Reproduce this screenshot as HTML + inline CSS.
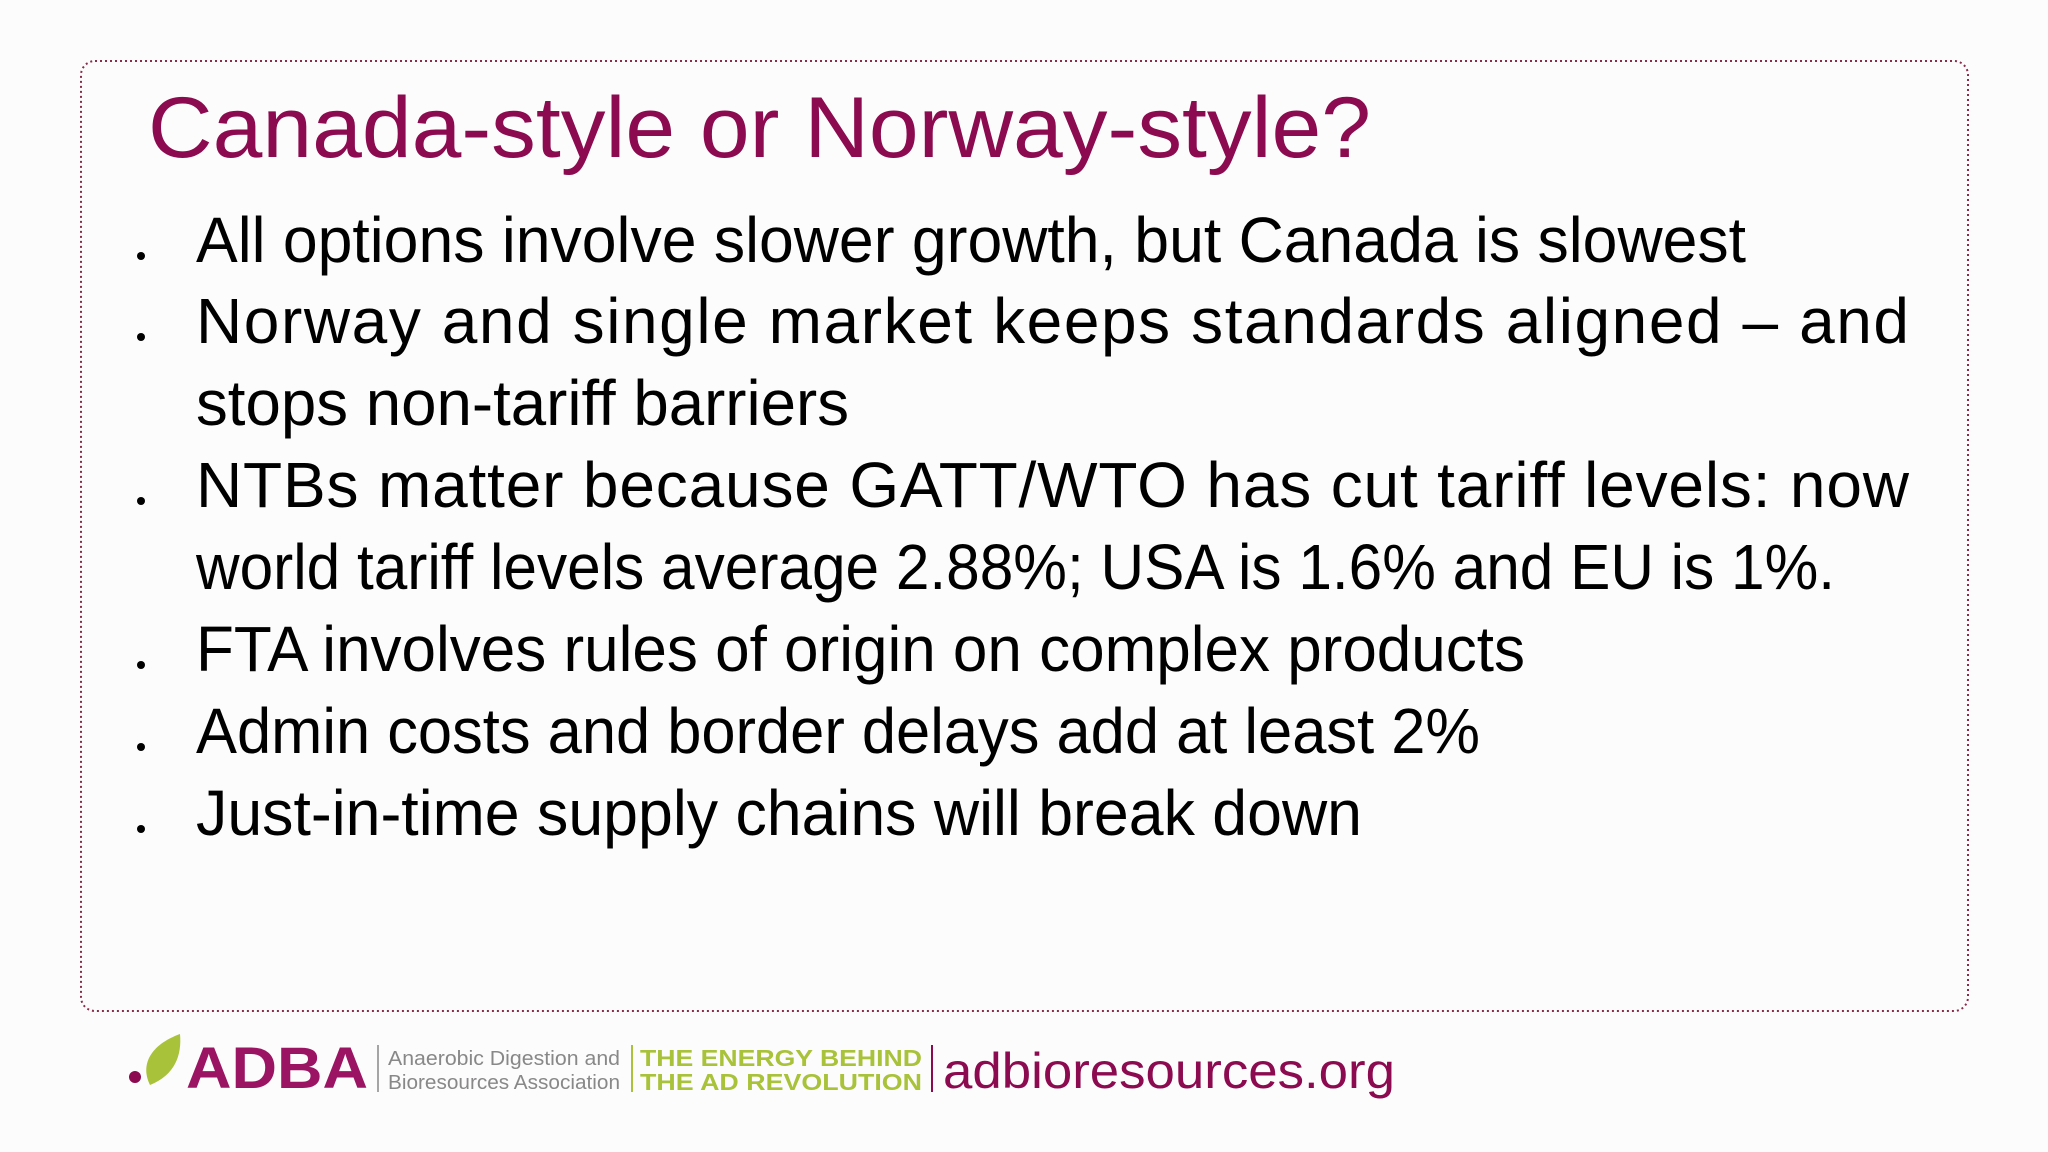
<!DOCTYPE html>
<html><head><meta charset="utf-8"><style>
html,body{margin:0;padding:0;background:#fdfcfd;}
svg{display:block}
</style></head><body>
<svg width="2048" height="1152" viewBox="0 0 2048 1152" xmlns="http://www.w3.org/2000/svg">
<rect x="0" y="0" width="2048" height="1152" fill="#fdfcfd"/>
<rect x="81" y="61" width="1887" height="950" rx="14" fill="none" stroke="#8a2d4a" stroke-width="2" stroke-dasharray="2,3"/>
<text x="148" y="157" font-family="Liberation Sans, sans-serif" font-size="86" fill="#8b0a50" textLength="1223" lengthAdjust="spacingAndGlyphs">Canada-style or Norway-style?</text>
<g font-family="Liberation Sans, sans-serif" font-size="64" fill="#000">
<circle cx="141" cy="256" r="4" fill="#000"/>
<text x="196" y="262" textLength="1550" lengthAdjust="spacingAndGlyphs">All options involve slower growth, but Canada is slowest</text>
<circle cx="141" cy="337" r="4" fill="#000"/>
<text x="196" y="343" textLength="1713" lengthAdjust="spacing">Norway and single market keeps standards aligned – and</text>
<text x="196" y="425" textLength="653" lengthAdjust="spacingAndGlyphs">stops non-tariff barriers</text>
<circle cx="141" cy="501" r="4" fill="#000"/>
<text x="196" y="507" textLength="1713" lengthAdjust="spacing">NTBs matter because GATT/WTO has cut tariff levels: now</text>
<text x="196" y="589" textLength="1639" lengthAdjust="spacingAndGlyphs">world tariff levels average 2.88%; USA is 1.6% and EU is 1%.</text>
<circle cx="141" cy="665" r="4" fill="#000"/>
<text x="196" y="671" textLength="1329" lengthAdjust="spacingAndGlyphs">FTA involves rules of origin on complex products</text>
<circle cx="141" cy="747" r="4" fill="#000"/>
<text x="196" y="753" textLength="1284" lengthAdjust="spacingAndGlyphs">Admin costs and border delays add at least 2%</text>
<circle cx="141" cy="829" r="4" fill="#000"/>
<text x="196" y="835" textLength="1166" lengthAdjust="spacingAndGlyphs">Just-in-time supply chains will break down</text>
</g>
<g>
<path d="M150 1085 C140 1065 150 1045 180 1034 C182 1055 175 1075 150 1085 Z" fill="#a8c23a"/>
<circle cx="135" cy="1077" r="6" fill="#8b0a50"/>
<text x="186" y="1088" font-family="Liberation Sans, sans-serif" font-weight="bold" font-size="58" fill="#9b1464" textLength="182" lengthAdjust="spacingAndGlyphs">ADBA</text>
<line x1="378" y1="1045" x2="378" y2="1092" stroke="#888" stroke-width="1.5"/>
<text x="388" y="1065" font-family="Liberation Sans, sans-serif" font-size="20" fill="#888" textLength="232" lengthAdjust="spacingAndGlyphs">Anaerobic Digestion and</text>
<text x="388" y="1089" font-family="Liberation Sans, sans-serif" font-size="20" fill="#888" textLength="232" lengthAdjust="spacingAndGlyphs">Bioresources Association</text>
<line x1="632" y1="1045" x2="632" y2="1092" stroke="#a8c23a" stroke-width="2"/>
<text x="640" y="1066" font-family="Liberation Sans, sans-serif" font-weight="bold" font-size="23" fill="#a8c23a" textLength="282" lengthAdjust="spacingAndGlyphs">THE ENERGY BEHIND</text>
<text x="640" y="1090" font-family="Liberation Sans, sans-serif" font-weight="bold" font-size="23" fill="#a8c23a" textLength="282" lengthAdjust="spacingAndGlyphs">THE AD REVOLUTION</text>
<line x1="932" y1="1045" x2="932" y2="1092" stroke="#8b0a50" stroke-width="2"/>
<text x="943" y="1088" font-family="Liberation Sans, sans-serif" font-size="50" fill="#8b0a50" textLength="452" lengthAdjust="spacingAndGlyphs">adbioresources.org</text>
</g>
</svg>
</body></html>
